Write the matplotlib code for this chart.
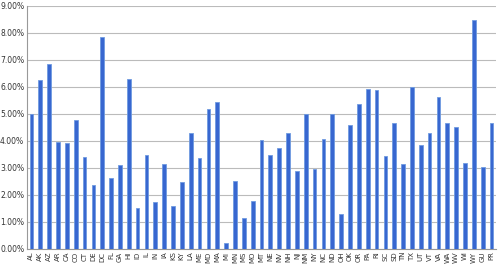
import matplotlib
matplotlib.use('Agg')
import matplotlib.pyplot as plt
from matplotlib.ticker import FuncFormatter

states = ['AL', 'AK', 'AZ', 'AR', 'CA', 'CO', 'CT', 'DE', 'DC', 'FL', 'GA', 'HI', 'ID', 'IL',
          'IN', 'IA', 'KS', 'KY', 'LA', 'ME', 'MD', 'MA', 'MI', 'MN', 'MS', 'MO', 'MT', 'NE',
          'NV', 'NH', 'NJ', 'NM', 'NY', 'NC', 'ND', 'OH', 'OK', 'OR', 'PA', 'RI', 'SC', 'SD',
          'TN', 'TX', 'UT', 'VT', 'VA', 'WA', 'WV', 'WI', 'WY', 'GU', 'PR']
rates = [5.00, 6.24, 6.85, 3.95, 3.92, 4.78, 3.42, 2.35, 7.84, 2.62, 3.09, 6.28, 1.51, 3.49,
         1.75, 3.16, 1.57, 2.46, 4.30, 3.36, 5.17, 5.43, 0.23, 2.52, 1.16, 1.78, 4.02, 3.47,
         3.74, 4.30, 2.89, 5.00, 2.96, 4.07, 4.98, 1.28, 4.57, 5.37, 5.91, 5.89, 3.44, 4.65,
         3.14, 6.01, 3.84, 4.30, 5.64, 4.67, 4.51, 3.17, 8.48, 3.02, 4.65]

fig = plt.figure(figsize=(5, 2.67), dpi=100)
ax = fig.add_axes([0.054, 0.068, 0.938, 0.91])
x = list(range(len(states)))
ax.bar(x, rates, width=0.42, color='#3867d0', edgecolor='#6f9be0', linewidth=0.6, zorder=3)

ax.set_ylim(0, 9)
ax.set_yticks(range(10))
ax.yaxis.set_major_formatter(FuncFormatter(lambda v, p: '%.2f%%' % v))
ax.set_xlim(-0.5, len(states) - 0.5)
ax.set_xticks(x)
ax.set_xticklabels(states, rotation=90)
ax.tick_params(axis='x', labelsize=5, length=0, pad=2, colors='#333333')
ax.tick_params(axis='y', labelsize=5.5, length=0, pad=2, colors='#333333')
ax.grid(axis='y', color='#bbbbbb', linewidth=0.8, zorder=0)
for s in ['top', 'right']:
    ax.spines[s].set_visible(False)
ax.spines['left'].set_color('#999999')
ax.spines['bottom'].set_color('#999999')

fig.savefig('out.png')
plt.close(fig)
